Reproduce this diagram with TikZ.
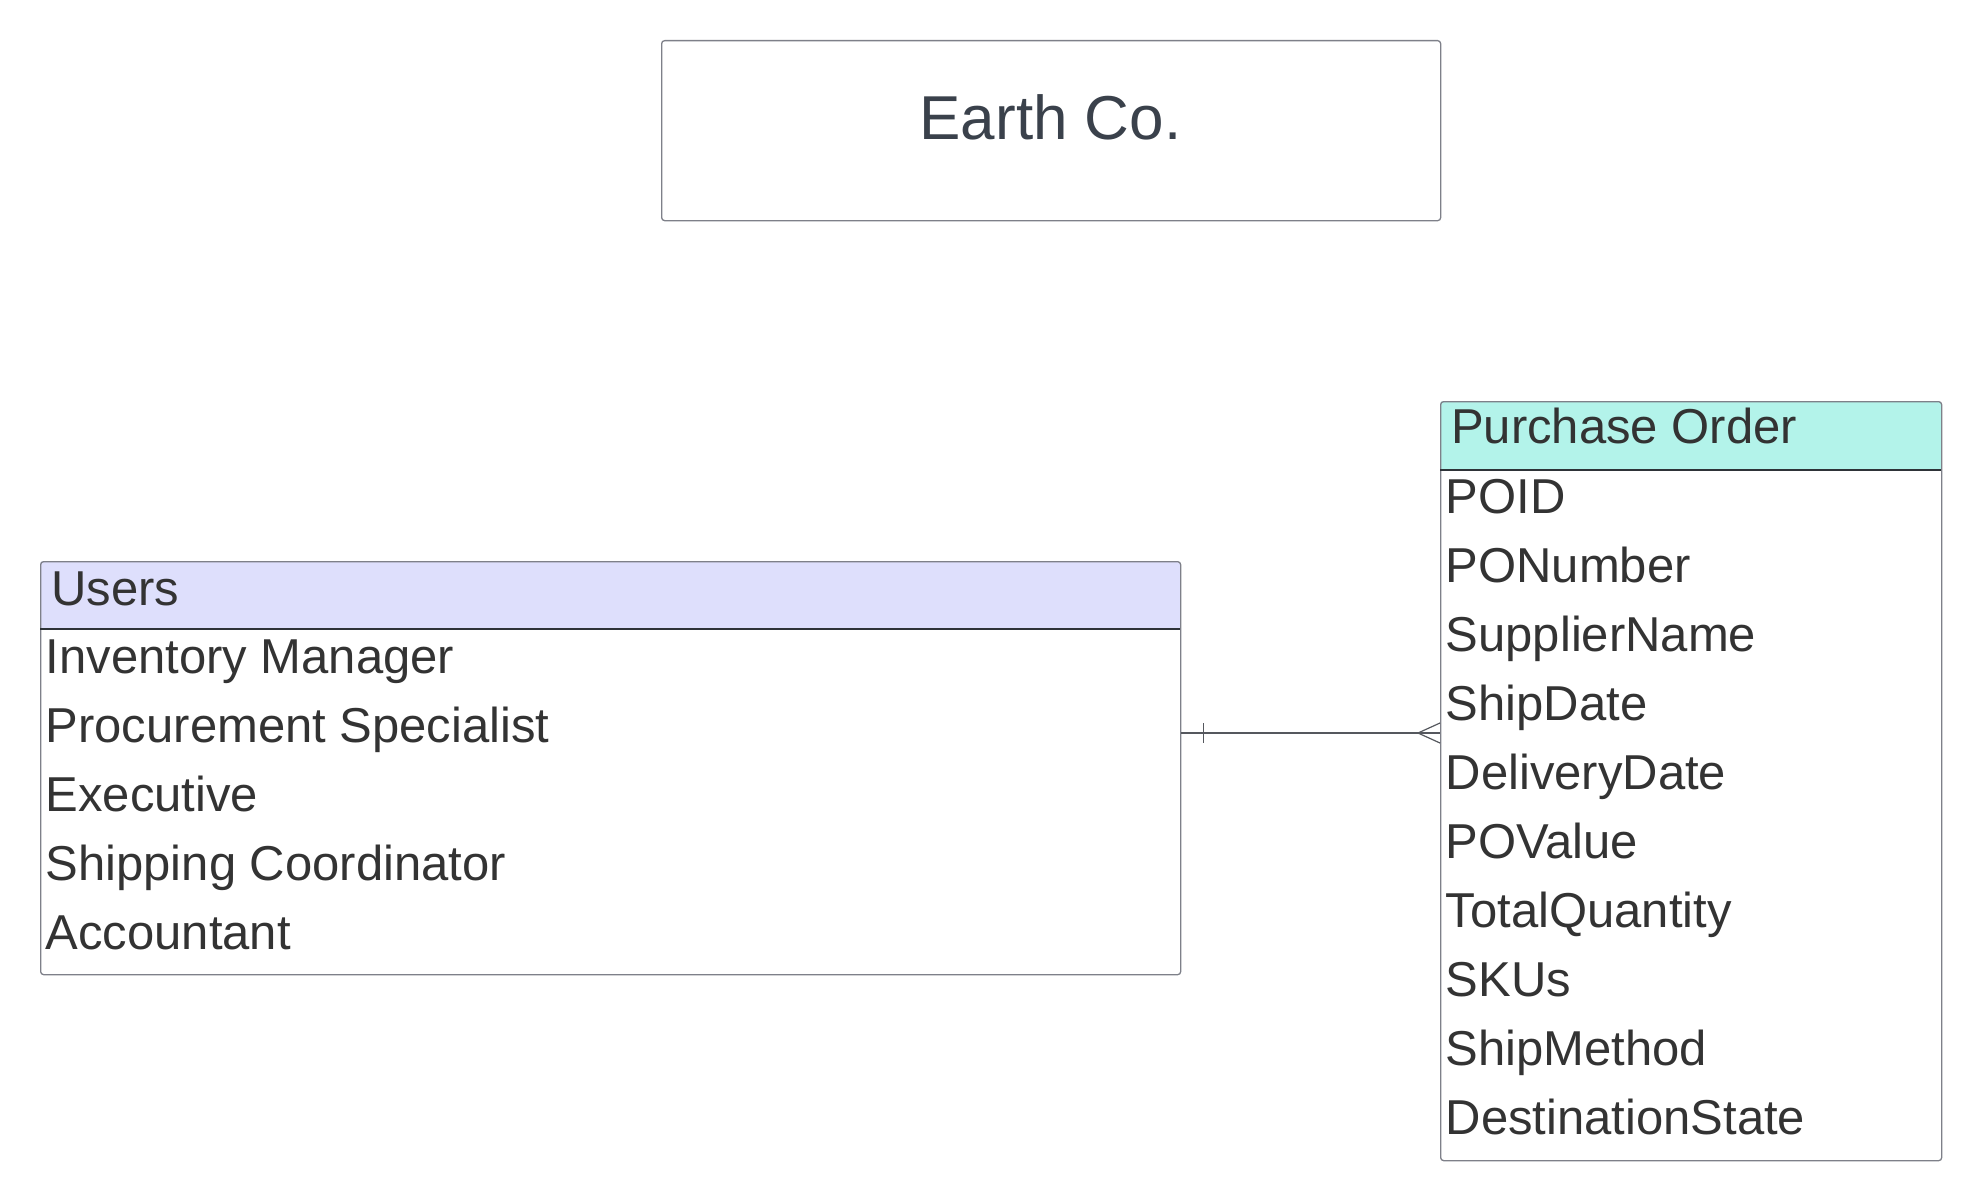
\documentclass[tikz,border=0pt]{standalone}
\usepackage{fontspec}
\setmainfont{Liberation Sans}
\definecolor{usershead}{HTML}{DEDFFC}
\definecolor{pohead}{HTML}{B3F3EA}
\definecolor{boxline}{HTML}{7E8089}
\definecolor{sepline}{HTML}{2E3338}
\definecolor{txt}{HTML}{333333}
\definecolor{titletxt}{HTML}{3A414B}
\definecolor{connline}{HTML}{55585E}
\tikzset{
  box/.style={draw=boxline, line width=1.3pt, rounded corners=3pt, inner sep=0pt, anchor=north west},
  item/.style={anchor=base west, inner sep=0pt, text=txt, font=\fontsize{49}{58}\selectfont},
  headtext/.style={anchor=base west, inner sep=0pt, text=txt, font=\fontsize{49}{58}\selectfont},
  sep/.style={draw=sepline, line width=1.2pt},
  conn/.style={draw=connline, line width=1.2pt},
}
\begin{document}
\begin{tikzpicture}[x=1pt,y=-1pt]
\useasboundingbox (0,0) rectangle (1980,1199);
% Title box
\node[box, minimum width=779pt, minimum height=180pt] (earth) at (661,40) {};
\node[anchor=base, inner sep=0pt, text=titletxt, font=\fontsize{62}{70}\selectfont] (earthtxt) at (1050.5,139.5) {Earth Co.};
% Users entity
\path[fill=usershead] (40,629) {[rounded corners=3pt] -- (40,561) -- (1180,561)} -- (1180,629) -- cycle;
\node[box, minimum width=1140pt, minimum height=413pt] (users) at (40,561) {};
\draw[sep] (40,629) -- (1180,629);
\node[headtext] (usershd) at (51,605) {Users};
\node[item] (u1) at (45.5,673) {Inventory Manager};
\node[item] (u2) at (45.5,742) {Procurement Specialist};
\node[item] (u3) at (45.5,811) {Executive};
\node[item] (u4) at (45.5,880) {Shipping Coordinator};
\node[item] (u5) at (45.5,949) {Accountant};
% Purchase Order entity
\path[fill=pohead] (1440,470) {[rounded corners=3pt] -- (1440,401) -- (1941,401)} -- (1941,470) -- cycle;
\node[box, minimum width=501pt, minimum height=759pt] (po) at (1440,401) {};
\draw[sep] (1440,470) -- (1941,470);
\node[headtext] (pohd) at (1451,443.5) {Purchase Order};
\node[item] (p1) at (1445.5,513.5) {POID};
\node[item] (p2) at (1445.5,582.5) {PONumber};
\node[item] (p3) at (1445.5,651.5) {SupplierName};
\node[item] (p4) at (1445.5,720.5) {ShipDate};
\node[item] (p5) at (1445.5,789.5) {DeliveryDate};
\node[item] (p6) at (1445.5,858.5) {POValue};
\node[item] (p7) at (1445.5,927.5) {TotalQuantity};
\node[item] (p8) at (1445.5,996.5) {SKUs};
\node[item] (p9) at (1445.5,1065.5) {ShipMethod};
\node[item] (p10) at (1445.5,1134.5) {DestinationState};
% Relationship
\coordinate (rel) at (0,733);
\draw[conn] (users.east |- rel) -- (po.west |- rel);
\draw[conn] ([xshift=22pt]users.east |- rel) ++(0,-10) -- ++(0,20);
\draw[conn] (po.west |- rel) ++(0,-10) -- ++(-22,10) -- ++(22,10);
\end{tikzpicture}
\end{document}
